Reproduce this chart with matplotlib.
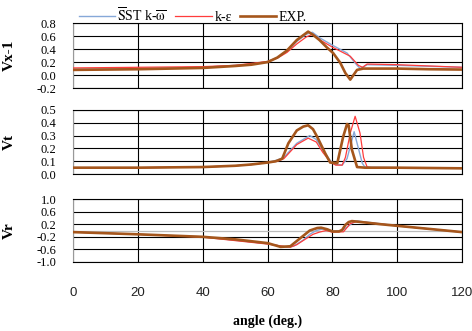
import matplotlib
matplotlib.use('Agg')
import matplotlib.pyplot as plt

plt.rcParams['font.family'] = ['Liberation Serif', 'DejaVu Serif']
plt.rcParams['mathtext.fontset'] = 'stix'

# --- Vx-1 panel ---
vx_exp_ang = [0, 20, 40, 50, 55, 60, 63, 66, 69, 72.5, 74, 76, 78.4, 80.2, 82.4, 84, 85.5, 87.6, 89.5, 100, 110, 120]
vx_exp = [0.08, 0.09, 0.11, 0.14, 0.16, 0.20, 0.27, 0.38, 0.54, 0.67, 0.62, 0.54, 0.42, 0.34, 0.19, 0.03, -0.07, 0.08, 0.10, 0.10, 0.09, 0.085]
vx_sst_ang = [0, 20, 40, 50, 55, 60, 63, 66, 69, 72, 73.8, 76.2, 80, 84.5, 87.6, 88.6, 90.7, 100, 110, 120]
vx_sst = [0.09, 0.10, 0.12, 0.15, 0.17, 0.21, 0.27, 0.37, 0.52, 0.63, 0.66, 0.57, 0.46, 0.34, 0.15, 0.10, 0.16, 0.15, 0.135, 0.12]
vx_ke_ang = [0, 20, 40, 50, 55, 60, 63, 66, 69, 72, 74, 76.2, 80, 85.5, 88, 89.3, 90.7, 100, 110, 120]
vx_ke = [0.11, 0.12, 0.13, 0.15, 0.18, 0.21, 0.26, 0.35, 0.48, 0.59, 0.63, 0.54, 0.43, 0.29, 0.15, 0.12, 0.17, 0.16, 0.14, 0.12]

# --- Vt panel ---
vt_exp_ang = [0, 20, 40, 50, 55, 60, 62.5, 64.5, 66.4, 69, 71, 72.5, 74, 75.3, 77.8, 79.3, 81.5, 83.3, 84.5, 85, 86, 87.6, 90, 100, 120]
vt_exp = [0.05, 0.05, 0.055, 0.065, 0.075, 0.09, 0.10, 0.12, 0.24, 0.34, 0.37, 0.38, 0.35, 0.29, 0.16, 0.09, 0.085, 0.29, 0.39, 0.38, 0.19, 0.055, 0.05, 0.05, 0.045]
vt_sst_ang = [0, 20, 40, 50, 55, 60, 63, 65, 69, 73, 75, 77, 79.5, 81, 83, 84.5, 86.7, 87.5, 89.2, 90, 100, 120]
vt_sst = [0.05, 0.05, 0.055, 0.065, 0.075, 0.09, 0.11, 0.13, 0.24, 0.30, 0.27, 0.19, 0.10, 0.075, 0.07, 0.12, 0.33, 0.25, 0.085, 0.055, 0.05, 0.045]
vt_ke_ang = [0, 20, 40, 50, 55, 60, 63, 65, 69, 72.5, 75, 77, 79.5, 81, 83, 84, 85.5, 87, 88.5, 89.6, 90.7, 92, 100, 120]
vt_ke = [0.05, 0.05, 0.055, 0.065, 0.075, 0.09, 0.10, 0.12, 0.23, 0.28, 0.25, 0.17, 0.09, 0.07, 0.07, 0.13, 0.32, 0.45, 0.32, 0.13, 0.055, 0.05, 0.05, 0.045]

# --- Vr panel ---
vr_exp_ang = [0, 20, 40, 50, 60, 64, 67, 70, 73, 75.3, 76.5, 78.4, 80, 82, 83, 84, 85, 86, 88, 95, 100, 110, 120]
vr_exp = [-0.05, -0.12, -0.20, -0.28, -0.40, -0.52, -0.50, -0.25, 0.0, 0.08, 0.09, 0.04, -0.03, -0.03, 0.02, 0.18, 0.27, 0.30, 0.28, 0.20, 0.15, 0.05, -0.05]
vr_sst_ang = [0, 20, 40, 60, 66, 68, 71, 73, 75, 77, 80, 83, 85, 87, 88, 100, 120]
vr_sst = [-0.05, -0.12, -0.20, -0.42, -0.53, -0.50, -0.30, -0.12, 0.0, 0.05, -0.02, 0.0, 0.15, 0.30, 0.30, 0.15, -0.05]
vr_ke_ang = [0, 20, 40, 60, 67, 69, 72, 74, 76, 78, 80, 83.4, 85.5, 87.6, 100, 120]
vr_ke = [-0.05, -0.12, -0.21, -0.43, -0.53, -0.45, -0.25, -0.12, -0.05, 0.0, -0.05, -0.04, 0.22, 0.29, 0.15, -0.05]

panels = [
    ("Vx-1", (-0.2, 0.8), 0.2, vx_sst_ang, vx_sst, vx_ke_ang, vx_ke, vx_exp_ang, vx_exp),
    ("Vt", (0.0, 0.5), 0.1, vt_sst_ang, vt_sst, vt_ke_ang, vt_ke, vt_exp_ang, vt_exp),
    ("Vr", (-1.0, 1.0), 0.4, vr_sst_ang, vr_sst, vr_ke_ang, vr_ke, vr_exp_ang, vr_exp),
]
x_ticks = [0, 20, 40, 60, 80, 100, 120]

fig = plt.figure(figsize=(4.72, 3.31), dpi=100)
positions = [[0.155, 0.734, 0.824, 0.196],
             [0.155, 0.474, 0.824, 0.194],
             [0.155, 0.2085, 0.824, 0.190]]

c_sst = '#86a8d8'
c_ke = '#ff3c3c'
c_exp = '#a5561c'

axes = []
for pos, (lab, ylim, step, xs, ys, xk, yk, xe, ye) in zip(positions, panels):
    ax = fig.add_axes(pos)
    l1, = ax.plot(xs, ys, color=c_sst, lw=1.0, zorder=3)
    l2, = ax.plot(xk, yk, color=c_ke, lw=0.9, zorder=4)
    l3, = ax.plot(xe, ye, color=c_exp, lw=1.9, zorder=5)
    ax.set_xlim(0, 120)
    ax.set_ylim(*ylim)
    n = int(round((ylim[1] - ylim[0]) / step))
    ticks = [round(ylim[0] + i * step, 2) for i in range(n + 1)]
    ax.set_yticks(ticks)
    ax.set_yticklabels([f"{t:.1f}" for t in ticks], fontsize=9)
    ax.set_xticks(x_ticks)
    ax.grid(True, color='black', lw=0.8)
    ax.set_axisbelow(True)
    ax.tick_params(length=0, pad=12)
    for s in ax.spines.values():
        s.set_color('black')
        s.set_linewidth(0.8)
    ax.spines['left'].set_color('#999999')
    ax.set_ylabel(lab, fontsize=11, fontweight='bold')
    ax.yaxis.set_label_coords(-0.148, 0.5)
    axes.append(ax)

axes[2].axhline(0, color='#bbbbbb', lw=0.9, zorder=2)
for ax in axes[:2]:
    ax.tick_params(labelbottom=False)
axes[2].tick_params(axis='x', pad=18)
for t in axes[2].get_xticklabels():
    t.set_fontfamily('Liberation Sans')
    t.set_fontsize(9.5)
    t.set_color('#222222')
axes[2].set_xlabel('angle (deg.)', fontsize=10, fontweight='bold', labelpad=11)

fig.legend([l1, l2, l3],
           [r"$\overline{\mathrm{S}}$ST k-$\overline{\mathrm{ω}}$", "k-ε", "EXP."],
           loc='upper left', bbox_to_anchor=(0.14, 1.02), ncol=3, frameon=False,
           fontsize=10, handlelength=2.6, handletextpad=0.2, columnspacing=0.6)

fig.savefig('out.png', dpi=100)
